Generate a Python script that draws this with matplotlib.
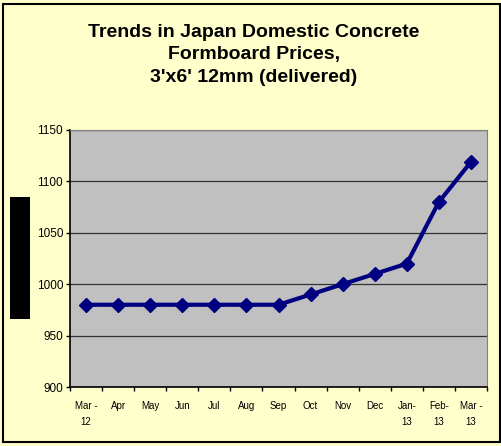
import matplotlib.pyplot as plt
import matplotlib.patches as patches
import numpy as np

months = ["Mar -\n12", "Apr", "May", "Jun", "Jul", "Aug", "Sep", "Oct",
          "Nov", "Dec", "Jan-\n13", "Feb-\n13", "Mar -\n13"]
prices = [980, 980, 980, 980, 980, 980, 980, 990, 1000, 1010, 1020, 1080, 1119]
yticks = [900, 950, 1000, 1050, 1100, 1150]

plt.rcParams['font.family'] = ['Liberation Sans', 'DejaVu Sans']

W, H = 502, 446
fig = plt.figure(figsize=(W / 100, H / 100), dpi=100)
fig.patch.set_facecolor('#FFFFCC')

# outer frame
fig.patches.append(patches.Rectangle((3 / W, 4 / H), 497 / W, 438 / H,
                                     transform=fig.transFigure, fill=False,
                                     edgecolor='black', linewidth=1.5))
# black box on the left (covered axis title)
fig.patches.append(patches.Rectangle((10 / W, 1 - 319 / H), 20 / W, 122 / H,
                                     transform=fig.transFigure, facecolor='black',
                                     edgecolor='none'))

ax = fig.add_axes([70 / W, 1 - 387 / H, 417 / W, 257 / H])
ax.set_facecolor('#C0C0C0')

x = np.arange(len(prices))
ax.plot(x, prices, color='#000080', linewidth=3, marker='D', markersize=7,
        zorder=3)

ax.set_xlim(-0.5, len(prices) - 0.5)
ax.set_ylim(900, 1150)
ax.set_yticks(yticks)
ax.set_yticklabels([str(v) for v in yticks], fontsize=8.5)
ax.yaxis.grid(True, color='#333333', linewidth=0.9)
ax.set_axisbelow(True)

ax.set_xticks(np.arange(len(prices) + 1) - 0.5)
ax.set_xticklabels([])
ax.set_xticks(x, minor=True)
ax.set_xticklabels(months, minor=True, fontsize=7, linespacing=1.8)
ax.tick_params(axis='x', which='minor', length=0, pad=10)
ax.tick_params(axis='x', which='major', length=3, width=1)
ax.tick_params(axis='y', length=3, width=1, pad=2)

for side in ['top', 'right']:
    ax.spines[side].set_color('#808080')
for side in ['left', 'bottom']:
    ax.spines[side].set_color('black')
    ax.spines[side].set_linewidth(1.2)

fig.text(254 / W, 1 - 55 / H,
         "Trends in Japan Domestic Concrete\nFormboard Prices,\n3'x6' 12mm (delivered)",
         ha='center', va='center', fontsize=14, fontweight='bold',
         linespacing=1.45)

fig.savefig("out.png", dpi=100, facecolor=fig.get_facecolor())
